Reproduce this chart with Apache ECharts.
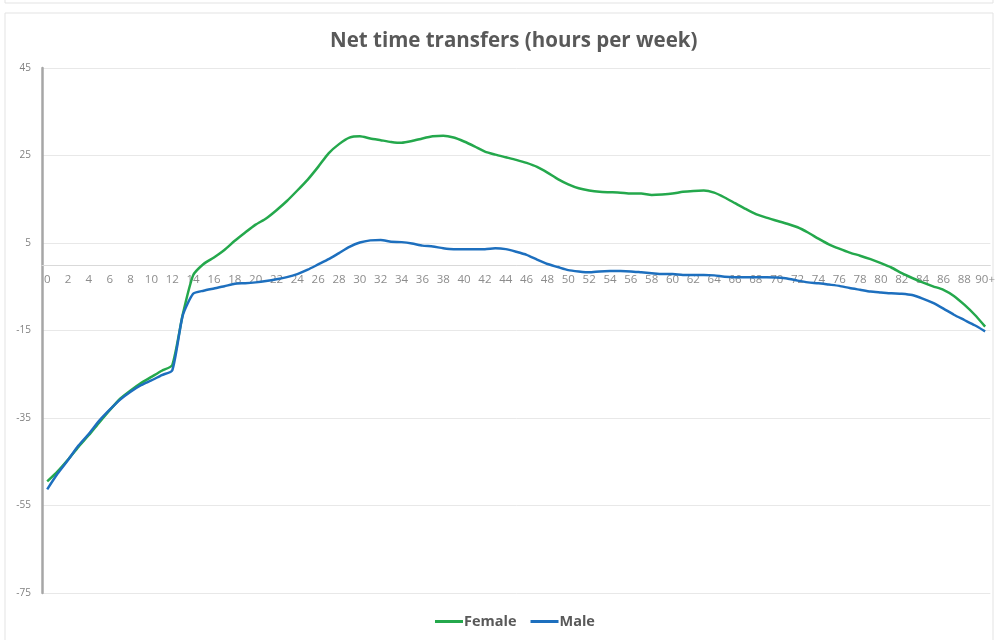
<!DOCTYPE html>
<html>
<head>
<meta charset="utf-8">
<script src="https://cdn.jsdelivr.net/npm/echarts@6/dist/echarts.min.js"></script>
<style>
html,body{margin:0;padding:0;background:#fff;}
#chart{width:998px;height:640px;}
</style>
</head>
<body>
<div id="chart"></div>
<script>
// Age categories 0..89 and 90+
const ages = [];
for (let a = 0; a <= 89; a++) ages.push(String(a));
ages.push('90+');

const female = [
  -49.5, -47.2, -44.5, -41.6, -38.9, -36.0, -33.2, -30.6, -28.7, -27.0,
  -25.6, -24.2, -22.9, -11.4, -2.4, 0.2, 1.7, 3.4, 5.5, 7.4,
  9.2, 10.6, 12.5, 14.6, 17.0, 19.5, 22.4, 25.5, 27.6, 29.1,
  29.4, 28.9, 28.5, 28.1, 27.9, 28.3, 28.9, 29.4, 29.5, 29.1,
  28.2, 27.1, 25.9, 25.2, 24.6, 24.0, 23.3, 22.4, 21.1, 19.6,
  18.4, 17.5, 17.0, 16.7, 16.6, 16.5, 16.3, 16.3, 16.0, 16.1,
  16.3, 16.7, 16.9, 17.0, 16.5, 15.4, 14.1, 12.8, 11.6, 10.8,
  10.1, 9.4, 8.6, 7.4, 6.0, 4.7, 3.7, 2.8, 2.1, 1.3,
  0.4, -0.6, -1.9, -3.0, -4.0, -4.9, -5.7, -7.1, -9.1, -11.4,
  -14.1
];

const male = [
  -51.3, -47.7, -44.6, -41.3, -38.6, -35.6, -33.1, -30.8, -29.0, -27.5,
  -26.4, -25.2, -24.1, -11.6, -6.6, -5.9, -5.4, -4.9, -4.3, -4.2,
  -4.0, -3.7, -3.3, -2.8, -2.1, -1.1, 0.1, 1.3, 2.7, 4.1,
  5.1, 5.6, 5.7, 5.3, 5.2, 4.9, 4.4, 4.2, 3.8, 3.6,
  3.6, 3.6, 3.6, 3.8, 3.6, 3.0, 2.3, 1.2, 0.2, -0.5,
  -1.2, -1.5, -1.7, -1.5, -1.4, -1.4, -1.5, -1.7, -1.9, -2.1,
  -2.1, -2.3, -2.3, -2.3, -2.4, -2.7, -2.8, -2.8, -2.8, -2.8,
  -2.9, -3.1, -3.6, -4.0, -4.2, -4.5, -4.8, -5.3, -5.7, -6.1,
  -6.3, -6.5, -6.6, -6.9, -7.7, -8.7, -10.0, -11.4, -12.6, -13.8,
  -15.2
];

const yMin = -75, yMax = 45, yStep = 20;

const W = 998, H = 640;
const gridTop = 68, gridBottom = 47;
const gridH = H - gridTop - gridBottom;
// distance from the bottom of the grid up to the value 0, from the y scale
const zeroOffset = gridH * (0 - yMin) / (yMax - yMin);

const chart = echarts.init(document.getElementById('chart'), null, {renderer: 'canvas'});
chart.setOption({
  animation: false,
  backgroundColor: '#ffffff',
  graphic: [
    {type: 'rect', shape: {x: 5, y: -10, width: 988, height: 13}, style: {fill: 'none', stroke: '#e3e3e3', lineWidth: 1}, silent: true},
    {type: 'rect', shape: {x: 5, y: 13, width: 988, height: 640}, style: {fill: 'none', stroke: '#e3e3e3', lineWidth: 1}, silent: true}
  ],
  title: {
    text: 'Net time transfers (hours per week)',
    left: 325,
    top: 26,
    textStyle: {fontFamily: 'Open Sans', fontWeight: 'bold', fontSize: 20.5, color: '#595959'}
  },
  legend: {
    bottom: 6,
    left: 430,
    itemWidth: 28,
    itemHeight: 3,
    itemGap: 14,
    icon: 'rect',
    textStyle: {fontFamily: 'Open Sans', fontWeight: 'bold', fontSize: 14.5, color: '#595959', padding: [0, 0, 0, -4]},
    data: ['Female', 'Male']
  },
  grid: {left: 42, right: 7, top: gridTop, bottom: gridBottom, containLabel: false},
  xAxis: {
    type: 'category',
    data: ages,
    boundaryGap: true,
    position: 'bottom',
    offset: -zeroOffset,
    axisLine: {onZero: false, lineStyle: {color: '#d9d9d9', width: 1}},
    axisTick: {show: false},
    axisLabel: {interval: 1, color: '#8c8c8c', fontFamily: 'Open Sans', fontSize: 11.5, margin: 9},
    splitLine: {show: false}
  },
  yAxis: {
    type: 'value',
    min: yMin,
    max: yMax,
    interval: yStep,
    axisLine: {show: true, onZero: false, lineStyle: {color: '#a6a6a6', width: 2.5}},
    axisTick: {show: false},
    axisLabel: {color: '#808080', fontFamily: 'Open Sans', fontSize: 10, margin: 11},
    splitLine: {show: true, lineStyle: {color: '#e8e8e8', width: 1}}
  },
  series: [
    {
      name: 'Female', type: 'line', data: female, smooth: 0.2, symbol: 'none',
      lineStyle: {color: '#24a84c', width: 2.5}, itemStyle: {color: '#24a84c'}
    },
    {
      name: 'Male', type: 'line', data: male, smooth: 0.2, symbol: 'none',
      lineStyle: {color: '#1d6fbe', width: 2.5}, itemStyle: {color: '#1d6fbe'}
    }
  ]
});
</script>
</body>
</html>
